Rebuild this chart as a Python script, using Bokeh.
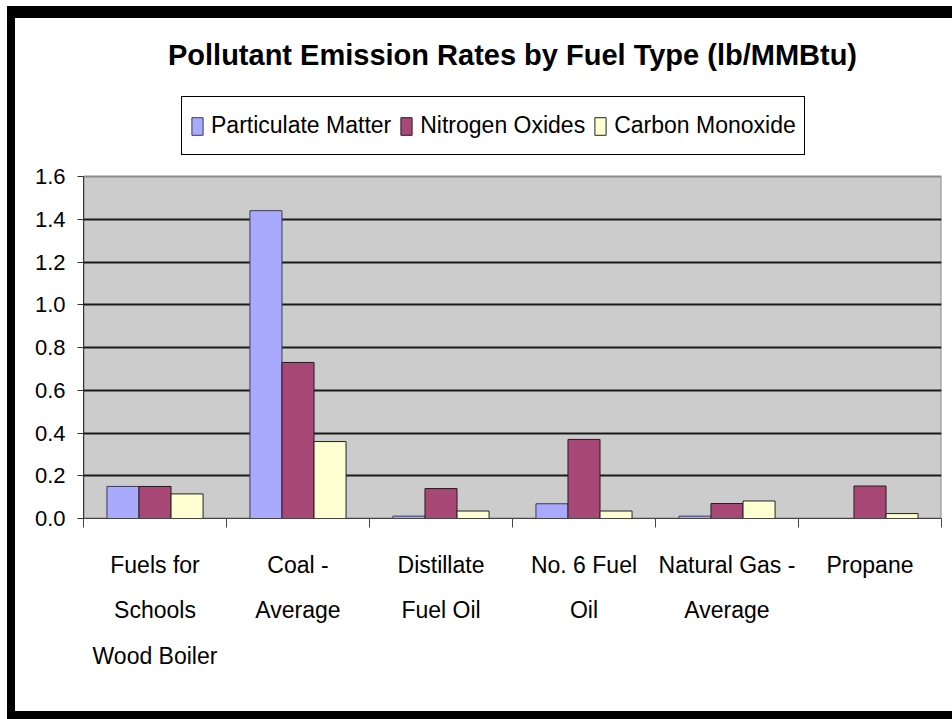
from bokeh.plotting import figure
from bokeh.models import (Range1d, LinearAxis, FixedTicker,
                          NumeralTickFormatter, Legend, LegendItem, ColumnDataSource)
from bokeh.transform import dodge
from bokeh.embed import file_html
from bokeh.resources import INLINE

# ---- data ----
fuels = ["Fuels for Schools Wood Boiler", "Coal - Average", "Distillate Fuel Oil",
         "No. 6 Fuel Oil", "Natural Gas - Average", "Propane"]
fuel_labels = ["Fuels for\nSchools\nWood Boiler", "Coal -\nAverage", "Distillate\nFuel Oil",
               "No. 6 Fuel\nOil", "Natural Gas -\nAverage", "Propane"]
particulate = [0.15, 1.44, 0.011, 0.069, 0.011, 0.0]
nitrogen = [0.15, 0.73, 0.14, 0.37, 0.07, 0.152]
carbon = [0.115, 0.36, 0.035, 0.035, 0.082, 0.023]
series_names = ["Particulate Matter", "Nitrogen Oxides", "Carbon Monoxide"]
y_ticks = [0.0, 0.2, 0.4, 0.6, 0.8, 1.0, 1.2, 1.4, 1.6]
title_text = "Pollutant Emission Rates by Fuel Type (lb/MMBtu)"

FONT = "Liberation Sans"
n = len(fuels)
centers = [i + 0.5 for i in range(n)]          # category slots on a 0..n axis
bounds = [float(i) for i in range(n + 1)]

# layout geometry (pixels)
W, H = 952, 719
LEFT, RIGHT, TOP, BOTTOM = 83, 11, 90, 201      # frame borders; frame extends up to hold the legend
AREA_H = 342                                    # height of the grey plotting area (0 .. 1.6)
frame_h = H - TOP - BOTTOM
y_end = y_ticks[-1] * frame_h / AREA_H

p = figure(x_range=Range1d(0, n), y_range=Range1d(y_ticks[0], y_end),
           width=W, height=H, output_backend="svg", toolbar_location=None,
           x_axis_location=None,
           min_border_left=LEFT, min_border_right=RIGHT, min_border_top=TOP, min_border_bottom=BOTTOM,
           background_fill_color="white", border_fill_color="white", border_fill_alpha=0,
           outline_line_color=None)

# black picture frame (drawn by the host element behind the transparent border area)
p.styles = {"box-shadow": ("inset 0 6px 0 0 white, inset 7px 0 0 0 white, "
                           "inset 0 18px 0 0 black, inset 15px 0 0 0 black, "
                           "inset 0 -8px 0 0 black"),
            "background-color": "white"}

p.title.text = title_text
p.title.text_font = FONT
p.title.text_font_style = "bold"
p.title.text_font_size = "29px"
p.title.text_color = "black"
p.title.align = "center"
p.title.standoff = 39

# grey plotting area 0..1.6
p.quad(left=0, right=n, bottom=y_ticks[0], top=y_ticks[-1], fill_color="#CCCCCC",
       line_color="#8C8C8C", line_width=2, level="image")

# grid
p.xgrid.visible = False
p.ygrid.ticker = FixedTicker(ticks=y_ticks[1:-1])
p.ygrid.grid_line_color = "#1a1a1a"
p.ygrid.grid_line_width = 2

# y axis
ya = p.yaxis[0]
ya.ticker = FixedTicker(ticks=y_ticks)
ya.bounds = (y_ticks[0], y_ticks[-1])
ya.formatter = NumeralTickFormatter(format="0.0")
ya.major_tick_in = 0
ya.major_tick_out = 6
ya.minor_tick_line_color = None
ya.axis_line_color = "#333333"
ya.major_tick_line_color = "#333333"
ya.major_label_text_font = FONT
ya.major_label_text_font_size = "22px"
ya.major_label_text_color = "black"
ya.major_label_standoff = 12

# x axes: tick marks at category boundaries, labels at centres
tick_axis = LinearAxis(ticker=FixedTicker(ticks=bounds),
                       major_tick_in=0, major_tick_out=9, minor_tick_line_color=None,
                       axis_line_color="#444444", major_tick_line_color="#444444",
                       major_label_text_font_size="1px", major_label_text_alpha=0,
                       major_label_standoff=0)
label_axis = LinearAxis(ticker=FixedTicker(ticks=centers),
                        major_tick_line_color=None, minor_tick_line_color=None, axis_line_color=None,
                        major_label_standoff=18,
                        major_label_overrides=dict(zip(centers, fuel_labels)),
                        major_label_text_font=FONT, major_label_text_font_size="23px",
                        major_label_text_color="black", major_label_text_line_height=1.75)
p.add_layout(tick_axis, "below")
p.add_layout(label_axis, "below")

src = ColumnDataSource(dict(fuel=fuels, pos=centers, particulate=particulate,
                            nitrogen=nitrogen, carbon=carbon))
bw = 0.224
r1 = p.vbar(x=dodge("pos", -bw), top="particulate", width=bw, source=src,
            fill_color="#A9AAFE", line_color="#3a3a5a", line_width=1)
r2 = p.vbar(x=dodge("pos", 0), top="nitrogen", width=bw, source=src,
            fill_color="#A84877", line_color="#2a1a20", line_width=1)
r3 = p.vbar(x=dodge("pos", bw), top="carbon", width=bw, source=src,
            fill_color="#FFFFD2", line_color="#222222", line_width=1)

legend = Legend(items=[LegendItem(label=s, renderers=[r]) for s, r in zip(series_names, [r1, r2, r3])],
                orientation="horizontal", location=(98, 363),
                border_line_color="black", border_line_width=1, border_line_alpha=1,
                background_fill_color="white", background_fill_alpha=1,
                label_text_font=FONT, label_text_font_size="23px", label_text_color="black",
                glyph_width=14, glyph_height=22, label_standoff=7, spacing=8, padding=8,
                label_height=41, margin=0)
p.add_layout(legend)

open("out.html", "w").write(file_html(p, INLINE))
